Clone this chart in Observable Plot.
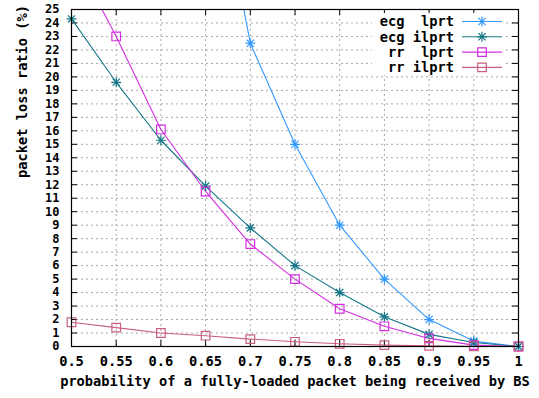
<!DOCTYPE html>
<html>
<head>
<meta charset="utf-8">
<script src="https://cdn.jsdelivr.net/npm/d3@7"></script>
<script src="https://cdn.jsdelivr.net/npm/@observablehq/plot@0.6"></script>
<style>
  html, body { margin: 0; padding: 0; background: #fff; }
  #wrap { position: relative; width: 539px; height: 398px; }
  #legend { position: absolute; left: 0; top: 0; }
</style>
</head>
<body>
<div id="wrap"></div>
<script>
// ---- data ----
const probs = [0.5, 0.55, 0.6, 0.65, 0.7, 0.75, 0.8, 0.85, 0.9, 0.95, 1];
const ecgLprt  = [null, null, null, 39.7, 22.5, 15.0, 9.0, 5.0, 2.0, 0.4, 0.0];
const ecgIlprt = [24.3, 19.6, 15.3, 11.9, 8.8, 6.0, 4.0, 2.2, 0.9, 0.3, 0.0];
const rrLprt   = [29.3, 23.0, 16.1, 11.5, 7.6, 5.0, 2.8, 1.5, 0.6, 0.1, 0.0];
const rrIlprt  = [1.8, 1.4, 1.0, 0.8, 0.55, 0.35, 0.2, 0.1, 0.05, 0.02, 0.0];
const seriesNames = ["ecg  lprt", "ecg ilprt", "rr  lprt", "rr ilprt"];
const seriesColors = ["#3399ff", "#167888", "#d22ee0", "#c8607e"];
const seriesShapes = ["asterisk", "asterisk", "square", "square"];
const xTicks = [0.5, 0.55, 0.6, 0.65, 0.7, 0.75, 0.8, 0.85, 0.9, 0.95, 1];
const yTicks = d3.range(0, 26);
const xLabel = "probability of a fully-loaded packet being received by BS";
const yLabel = "packet loss ratio (%)";

const allSeries = [ecgLprt, ecgIlprt, rrLprt, rrIlprt];
const rows = [];
allSeries.forEach((vals, si) => vals.forEach((v, i) => {
  if (v != null) rows.push({series: seriesNames[si], x: probs[i], y: v, si});
}));

const FONT = "bold 13.7px 'DejaVu Sans Mono', monospace";
const W = 539, H = 398, mL = 71, mR = 21, mT = 9, mB = 52;
const fh = H - mT - mB, fw = W - mL - mR;

const asteriskSym = {
  draw(ctx, size) {
    const r = Math.sqrt(size / Math.PI);
    const d = r * 0.72;
    ctx.moveTo(-r, 0); ctx.lineTo(r, 0);
    ctx.moveTo(0, -r); ctx.lineTo(0, r);
    ctx.moveTo(-d, -d); ctx.lineTo(d, d);
    ctx.moveTo(-d, d); ctx.lineTo(d, -d);
  }
};
const squareSym = {
  draw(ctx, size) {
    const r = Math.sqrt(size / Math.PI);
    ctx.moveTo(-r, -r); ctx.lineTo(r, -r); ctx.lineTo(r, r); ctx.lineTo(-r, r); ctx.closePath();
  }
};

const marks = [
  Plot.gridX(xTicks.filter(t => t > 0.5 && t < 1), {stroke: "#a8a8a8", strokeOpacity: 1, strokeDasharray: "2,3"}),
  Plot.gridY(yTicks.filter(t => t > 0 && t < 25), {stroke: "#a8a8a8", strokeOpacity: 1, strokeDasharray: "2,3"}),
  // inward ticks, all four sides
  Plot.tickX(xTicks, {x: d => d, insetTop: fh - 6, stroke: "#000"}),
  Plot.tickX(xTicks, {x: d => d, insetBottom: fh - 6, stroke: "#000"}),
  Plot.tickY(yTicks, {y: d => d, insetRight: fw - 6, stroke: "#000"}),
  Plot.tickY(yTicks, {y: d => d, insetLeft: fw - 6, stroke: "#000"}),
  Plot.axisX(xTicks, {tickSize: 0, tickPadding: 10, tickFormat: d => String(d), label: null, fontSize: 13.7}),
  Plot.axisY(yTicks, {tickSize: 0, tickPadding: 12, tickFormat: d => String(d), label: null, fontSize: 12}),
  ...seriesNames.map((name, si) =>
    Plot.line(rows.filter(r => r.si === si), {x: "x", y: "y", stroke: seriesColors[si], strokeWidth: 1.1, clip: true})
  ),
  ...seriesNames.map((name, si) =>
    Plot.dot(rows.filter(r => r.si === si && r.y <= 25), {
      x: "x", y: "y", stroke: seriesColors[si], fill: "none", strokeWidth: 1.2,
      r: seriesShapes[si] === "asterisk" ? 5 : 4.3,
      symbol: () => seriesShapes[si] === "asterisk" ? asteriskSym : squareSym
    })
  ),
  Plot.frame({stroke: "#000", strokeWidth: 1.2}),
  Plot.text([xLabel], {frameAnchor: "bottom", dy: 39, fontSize: 13.7, fill: "#000"}),
  Plot.text([yLabel], {frameAnchor: "left", dx: -49, rotate: -90, fontSize: 13.7, fill: "#000"})
];

const chart = Plot.plot({
  width: W, height: H,
  marginLeft: mL, marginRight: mR, marginTop: mT, marginBottom: mB,
  x: {domain: [0.5, 1], axis: null},
  y: {domain: [0, 25], axis: null},
  style: {fontFamily: "'DejaVu Sans Mono', monospace", fontWeight: "bold", fontSize: "13.7px", color: "#000", background: "#fff"},
  marks
});
document.getElementById("wrap").appendChild(chart);

// ---- legend overlay (inside plot, top right) ----
const leg = d3.select("#wrap").append("svg")
  .attr("id", "legend").attr("width", W).attr("height", 90);
leg.append("rect").attr("x", 372).attr("y", 13).attr("width", 134).attr("height", 62).attr("fill", "#fff");
seriesNames.forEach((name, i) => {
  const y = 21.5 + i * 15.3;
  leg.append("text").attr("x", 454).attr("y", y).attr("dy", "0.35em")
    .attr("text-anchor", "end").attr("xml:space", "preserve")
    .style("white-space", "pre").style("font", FONT).attr("fill", "#000").text(name);
  leg.append("line").attr("x1", 462).attr("x2", 502).attr("y1", y).attr("y2", y)
    .attr("stroke", seriesColors[i]).attr("stroke-width", 1.1);
  const sym = seriesShapes[i] === "asterisk" ? asteriskSym : squareSym;
  const r = seriesShapes[i] === "asterisk" ? 5 : 4.3;
  const p = d3.path();
  sym.draw(p, r * r * Math.PI);
  leg.append("path").attr("d", p.toString()).attr("transform", `translate(482,${y})`)
    .attr("fill", "none").attr("stroke", seriesColors[i]).attr("stroke-width", 1.2);
});
</script>
</body>
</html>
